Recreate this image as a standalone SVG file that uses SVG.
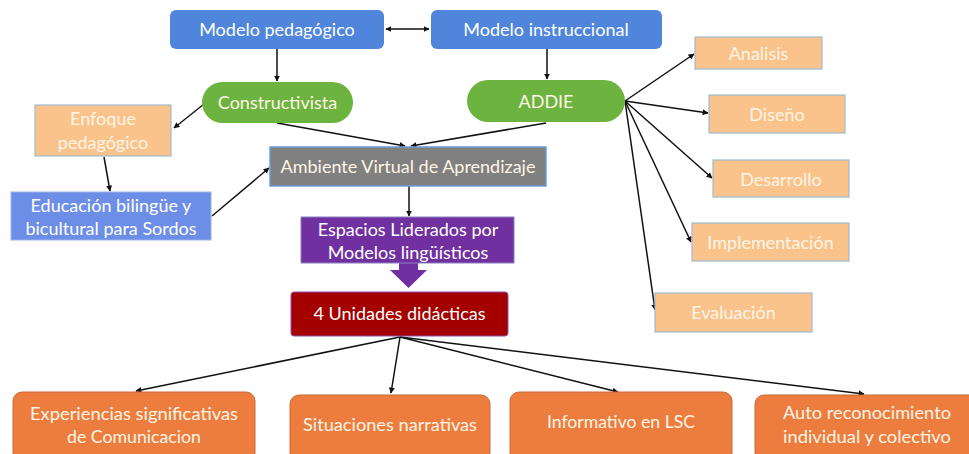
<svg xmlns="http://www.w3.org/2000/svg" width="969" height="454" viewBox="0 0 969 454">
<defs>
<marker id="ah" viewBox="0 0 10 10" refX="9" refY="5" markerWidth="6" markerHeight="6" orient="auto-start-reverse" markerUnits="userSpaceOnUse"><path d="M0,0 L10,5 L0,10 z" fill="#111"/></marker>
<style>
.t{font-family:Lato,"Open Sans","Liberation Sans",sans-serif;font-size:18px;text-anchor:middle;}
.w{fill:#ffffff;}
.c{fill:#fff5e6;}
.blue{fill:#4f86dc;}
.green{fill:#6db33f;}
.lor{fill:#f9c38b;stroke:#9dbbd0;stroke-width:1.2;}
.bor{fill:#ed7d3e;stroke:#c9693a;stroke-width:1;}
.ln{stroke:#111;stroke-width:1.5;fill:none;marker-end:url(#ah);}
</style>
</defs>
<rect width="969" height="454" fill="#ffffff"/>
<g id="connectors">
<line class="ln" x1="386" y1="29" x2="429" y2="29" marker-start="url(#ah)"/>
<line class="ln" x1="277" y1="49" x2="277" y2="81"/>
<line class="ln" x1="547" y1="49" x2="547" y2="79"/>
<line class="ln" x1="204" y1="104" x2="174" y2="128"/>
<line class="ln" x1="104" y1="157" x2="110" y2="191"/>
<line class="ln" x1="212" y1="216" x2="269" y2="168"/>
<line class="ln" x1="277" y1="123" x2="405" y2="146"/>
<line class="ln" x1="546" y1="123" x2="411" y2="146"/>
<line class="ln" x1="409" y1="186" x2="409" y2="216"/>
<line class="ln" x1="625" y1="101" x2="694" y2="54"/>
<line class="ln" x1="625" y1="101" x2="708" y2="113"/>
<line class="ln" x1="625" y1="101" x2="712" y2="178"/>
<line class="ln" x1="625" y1="101" x2="691" y2="242"/>
<line class="ln" x1="625" y1="101" x2="655" y2="310"/>
<line class="ln" x1="400" y1="337" x2="136" y2="391"/>
<line class="ln" x1="400" y1="337" x2="391" y2="393"/>
<line class="ln" x1="400" y1="337" x2="618" y2="392"/>
<line class="ln" x1="400" y1="337" x2="864" y2="394"/>
<path d="M399,263 L418,263 L418,270 L427,270 L408.5,288 L390,270 L399,270 z" fill="#7030a0"/>
</g>
<g id="modelo-pedagogico">
<rect class="blue" x="170" y="10" width="214" height="39" rx="6"/>
<text class="t w" x="277" y="36">Modelo pedagógico</text>
</g>
<g id="modelo-instruccional">
<rect class="blue" x="431" y="10" width="231" height="39" rx="6"/>
<text class="t w" x="546" y="36">Modelo instruccional</text>
</g>
<g id="constructivista">
<rect class="green" x="202" y="82" width="151" height="41" rx="20.5"/>
<text class="t c" x="277.5" y="109">Constructivista</text>
</g>
<g id="addie">
<rect class="green" x="467" y="80" width="158" height="42" rx="21"/>
<text class="t c" x="546" y="108">ADDIE</text>
</g>
<g id="enfoque">
<rect class="lor" x="35" y="105" width="136" height="51"/>
<text class="t c" x="103" y="125">Enfoque</text>
<text class="t c" x="103" y="149">pedagógico</text>
</g>
<g id="educacion">
<rect x="11" y="192" width="200" height="48" fill="#6c8ee6" stroke="#9db3ea" stroke-width="1"/>
<text class="t w" x="111" y="212">Educación bilingüe y</text>
<text class="t w" x="111" y="235">bicultural para Sordos</text>
</g>
<g id="ambiente">
<rect x="270" y="147" width="276" height="39" fill="#808080" stroke="#6d9bd6" stroke-width="1.5"/>
<text class="t c" x="408" y="173">Ambiente Virtual de Aprendizaje</text>
</g>
<g id="espacios">
<rect x="301" y="217" width="213" height="46" fill="#7030a0" stroke="#8a7fc0" stroke-width="1"/>
<text class="t w" x="408" y="236">Espacios Liderados por</text>
<text class="t w" x="408" y="259">Modelos lingüísticos</text>
</g>
<g id="unidades">
<rect x="291" y="292" width="217" height="44" rx="3" fill="#a50000" stroke="#8a4fb0" stroke-width="1"/>
<text class="t w" x="399.5" y="320" textLength="172" lengthAdjust="spacingAndGlyphs">4 Unidades didácticas</text>
</g>
<g id="analisis">
<rect class="lor" x="695" y="37" width="127" height="32"/>
<text class="t c" x="758.5" y="60">Analisis</text>
</g>
<g id="diseno">
<rect class="lor" x="709" y="95" width="136" height="38"/>
<text class="t c" x="777" y="121">Diseño</text>
</g>
<g id="desarrollo">
<rect class="lor" x="713" y="160" width="136" height="37"/>
<text class="t c" x="781" y="186">Desarrollo</text>
</g>
<g id="implementacion">
<rect class="lor" x="692" y="223" width="157" height="38"/>
<text class="t c" x="770.5" y="249">Implementación</text>
</g>
<g id="evaluacion">
<rect class="lor" x="655" y="293" width="157" height="39"/>
<text class="t c" x="733.5" y="319">Evaluación</text>
</g>
<g id="experiencias">
<rect class="bor" x="13" y="392" width="242" height="70" rx="9"/>
<text class="t c" x="134" y="420" textLength="208" lengthAdjust="spacingAndGlyphs">Experiencias significativas</text>
<text class="t c" x="134" y="443" textLength="134" lengthAdjust="spacingAndGlyphs">de Comunicacion</text>
</g>
<g id="situaciones">
<rect class="bor" x="290" y="395" width="200" height="67" rx="9"/>
<text class="t c" x="390" y="431" textLength="174" lengthAdjust="spacingAndGlyphs">Situaciones narrativas</text>
</g>
<g id="informativo">
<rect class="bor" x="510" y="392" width="222" height="70" rx="9"/>
<text class="t c" x="621" y="428" textLength="148" lengthAdjust="spacingAndGlyphs">Informativo en LSC</text>
</g>
<g id="auto">
<rect class="bor" x="755" y="395" width="225" height="67" rx="9"/>
<text class="t c" x="867" y="419" textLength="168" lengthAdjust="spacingAndGlyphs">Auto reconocimiento</text>
<text class="t c" x="867" y="443" textLength="168" lengthAdjust="spacingAndGlyphs">individual y colectivo</text>
</g>
</svg>
